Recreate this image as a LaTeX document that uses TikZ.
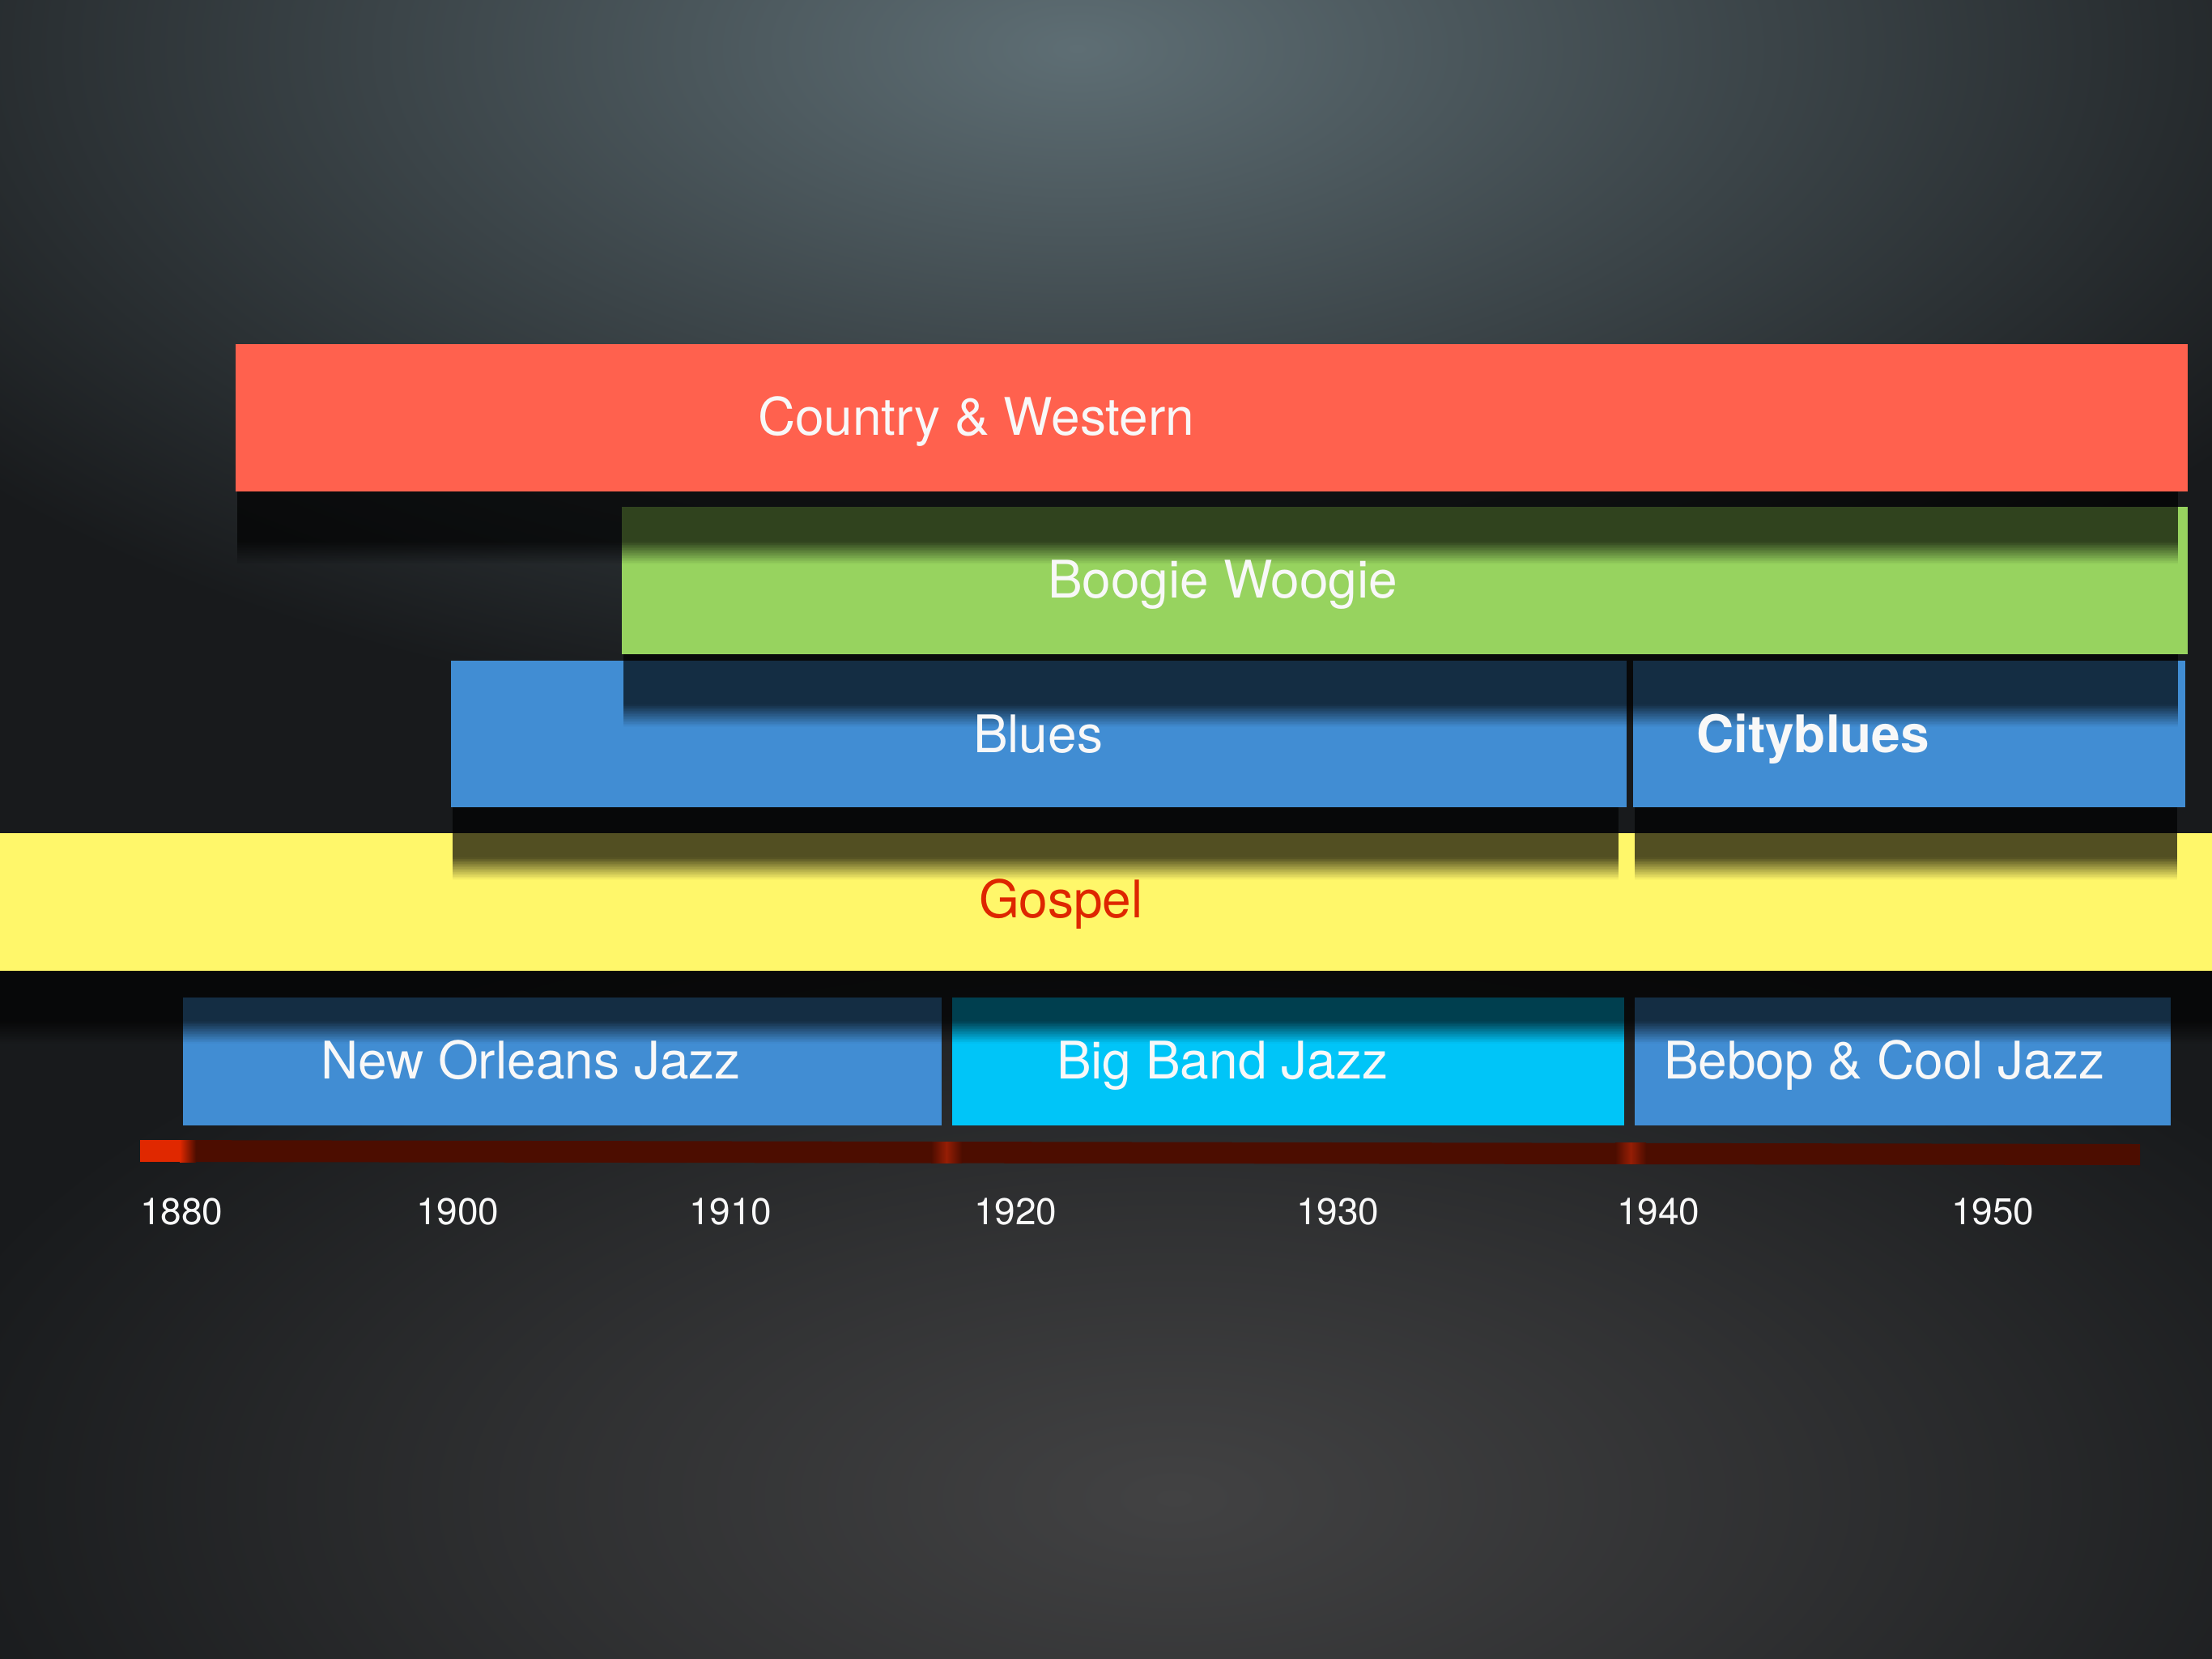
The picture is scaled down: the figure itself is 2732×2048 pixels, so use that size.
\documentclass[tikz,border=0pt]{standalone}
\usepackage{fontspec}
\setmainfont{TeX Gyre Heros}
\definecolor{bgbase}{RGB}{24,26,28}
\definecolor{glowtop}{RGB}{94,110,116}
\colorlet{glowtopmid}{glowtop!55!bgbase}
\definecolor{glowbot}{RGB}{66,66,67}
\colorlet{glowbotmid}{glowbot!60!bgbase}
\definecolor{cwred}{RGB}{255,97,78}
\definecolor{bwgreen}{RGB}{151,211,95}
\definecolor{bluesblue}{RGB}{65,141,211}
\definecolor{bigcyan}{RGB}{0,197,248}
\definecolor{gospelyellow}{RGB}{255,247,106}
\definecolor{gospeltext}{RGB}{222,38,0}
\definecolor{bardark}{RGB}{76,13,0}
\definecolor{barbright}{RGB}{224,40,0}
\definecolor{barglow}{RGB}{150,30,5}
\definecolor{labelwhite}{RGB}{248,248,248}
\pgfdeclareradialshading{topglowshade}{\pgfpointorigin}{color(0bp)=(glowtop); color(11bp)=(glowtopmid); color(25bp)=(bgbase); color(50bp)=(bgbase)}
\pgfdeclareradialshading{botglowshade}{\pgfpointorigin}{color(0bp)=(glowbot); color(11bp)=(glowbotmid); color(25bp)=(bgbase); color(50bp)=(bgbase)}
\newcommand{\mkshadow}[3]{%
  \fill[black, opacity=0.68] (#1,#3) rectangle (#2,#3+62);
  \foreach \i in {0,...,13}{%
    \pgfmathsetmacro{\shop}{0.68*(1-(\i+0.5)/14)}%
    \fill[black, opacity=\shop] (#1,#3+62+2*\i) rectangle (#2,#3+64+2*\i);
  }%
}
\tikzset{
  lbl/.style={anchor=base west, inner sep=0pt, outer sep=0pt, text=labelwhite, font=\fontsize{64pt}{76pt}\selectfont},
  yearlbl/.style={anchor=base west, inner sep=0pt, outer sep=0pt, text=labelwhite, font=\fontsize{46pt}{55pt}\selectfont},
}
\begin{document}
\begin{tikzpicture}[x=1pt,y=-1pt]
\useasboundingbox (0,0) rectangle (2732,2048);
% background
\fill[bgbase] (0,0) rectangle (2732,2048);
\begin{scope}
\clip (0,0) rectangle (2732,2048);
\shade[shading=topglowshade] (1330-1750,60-850) rectangle (1330+1750,60+850);
\shade[shading=botglowshade] (1450-1600,1850-760) rectangle (1450+1600,1850+760);
\end{scope}
% timeline bar
\fill[bardark] (173,1408) -- (2643,1413) -- (2643,1439) -- (173,1435) -- cycle;
\fill[barbright] (173,1408) rectangle (222,1435);
\shade[left color=barbright, right color=bardark] (222,1408) rectangle (242,1435);
\shade[left color=bardark, right color=bardark, middle color=barglow] (1150,1410) rectangle (1188,1436);
\shade[left color=bardark, right color=bardark, middle color=barglow] (1995,1411) rectangle (2033,1437);
% jazz row
\fill[bluesblue] (226,1232) rectangle (1163,1390);
\fill[bigcyan] (1176,1232) rectangle (2006,1390);
\fill[bluesblue] (2019,1232) rectangle (2681,1390);
% gospel
\mkshadow{0}{2732}{1199}
\fill[gospelyellow] (0,1029) rectangle (2732,1199);
% blues row
\mkshadow{559}{1999}{997}
\mkshadow{2019}{2689}{997}
\fill[bluesblue] (557,816) rectangle (2009,997);
\fill[bluesblue] (2017,816) rectangle (2699,997);
% boogie woogie
\mkshadow{770}{2690}{808}
\fill[bwgreen] (768,626) rectangle (2702,808);
% country & western
\mkshadow{293}{2690}{607}
\fill[cwred] (291,425) rectangle (2702,607);
% labels
\node[lbl] (tcw) at (936,537) {Country \& Western};
\node[lbl] (tbw) at (1294,738) {Boogie Woogie};
\node[lbl] (tbl) at (1202,929) {Blues};
\node[lbl, font=\fontsize{64pt}{76pt}\selectfont\bfseries] (tcb) at (2095,929) {Cityblues};
\node[lbl, text=gospeltext] (tgo) at (1209,1133) {Gospel};
\node[lbl] (tno) at (396,1332) {New Orleans Jazz};
\node[lbl] (tbb) at (1305,1332) {Big Band Jazz};
\node[lbl] (tbe) at (2055,1332) {Bebop \& Cool Jazz};
% years
\node[yearlbl] (y1880) at (173,1512) {1880};
\node[yearlbl] (y1900) at (514,1512) {1900};
\node[yearlbl] (y1910) at (851,1512) {1910};
\node[yearlbl] (y1920) at (1203,1512) {1920};
\node[yearlbl] (y1930) at (1601,1512) {1930};
\node[yearlbl] (y1940) at (1997,1512) {1940};
\node[yearlbl] (y1950) at (2410,1512) {1950};
\end{tikzpicture}
\end{document}
